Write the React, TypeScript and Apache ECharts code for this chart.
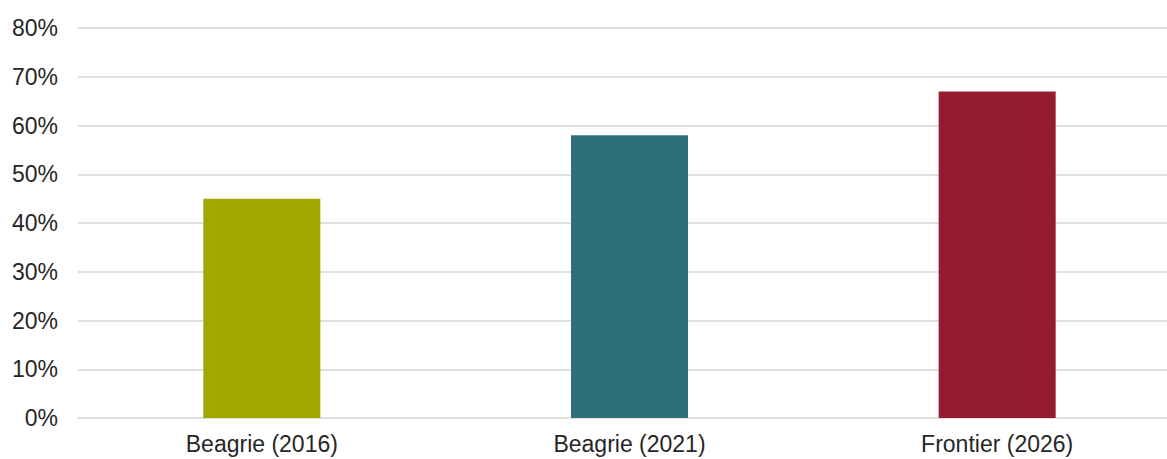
import React, { useEffect, useRef } from "react";
import * as echarts from "echarts";

const categories = ["Beagrie (2016)", "Beagrie (2021)", "Frontier (2026)"];
const values = [45, 58, 67];
const barColors = ["#A0A800", "#2E6F78", "#951B30"];
const yTicks = { min: 0, max: 80, interval: 10 };

const FONT = "'Liberation Sans', Arial, sans-serif";
const GRID_COLOR = "#E1DFDC";

export default function App() {
  const ref = useRef<HTMLDivElement>(null);

  useEffect(() => {
    if (!ref.current) return;
    const chart = echarts.init(ref.current, undefined, { renderer: "svg" });
    chart.setOption({
      animation: false,
      backgroundColor: "#ffffff",
      grid: { left: 78, right: 0, top: 28, bottom: 41, containLabel: false },
      xAxis: {
        type: "category",
        data: categories,
        axisLine: { show: true, lineStyle: { color: GRID_COLOR, width: 2 } },
        axisTick: { show: false },
        axisLabel: {
          color: "#262626",
          fontFamily: FONT,
          fontSize: 23,
          margin: 14,
        },
      },
      yAxis: {
        type: "value",
        min: yTicks.min,
        max: yTicks.max,
        interval: yTicks.interval,
        axisLine: { show: false },
        axisTick: { show: false },
        splitLine: { show: true, lineStyle: { color: GRID_COLOR, width: 2 } },
        axisLabel: {
          color: "#262626",
          fontFamily: FONT,
          fontSize: 23,
          margin: 20,
          formatter: "{value}%",
        },
      },
      series: [
        {
          type: "bar",
          barWidth: 117,
          data: values.map((v, i) => ({
            value: v,
            itemStyle: { color: barColors[i] },
          })),
        },
      ],
    });
    return () => chart.dispose();
  }, []);

  return (
    <div
      style={{
        position: "absolute",
        left: 0,
        top: 0,
        width: 1167,
        height: 459,
        overflow: "hidden",
        background: "#ffffff",
      }}
    >
      <div ref={ref} style={{ width: 1181, height: 459 }} />
    </div>
  );
}
